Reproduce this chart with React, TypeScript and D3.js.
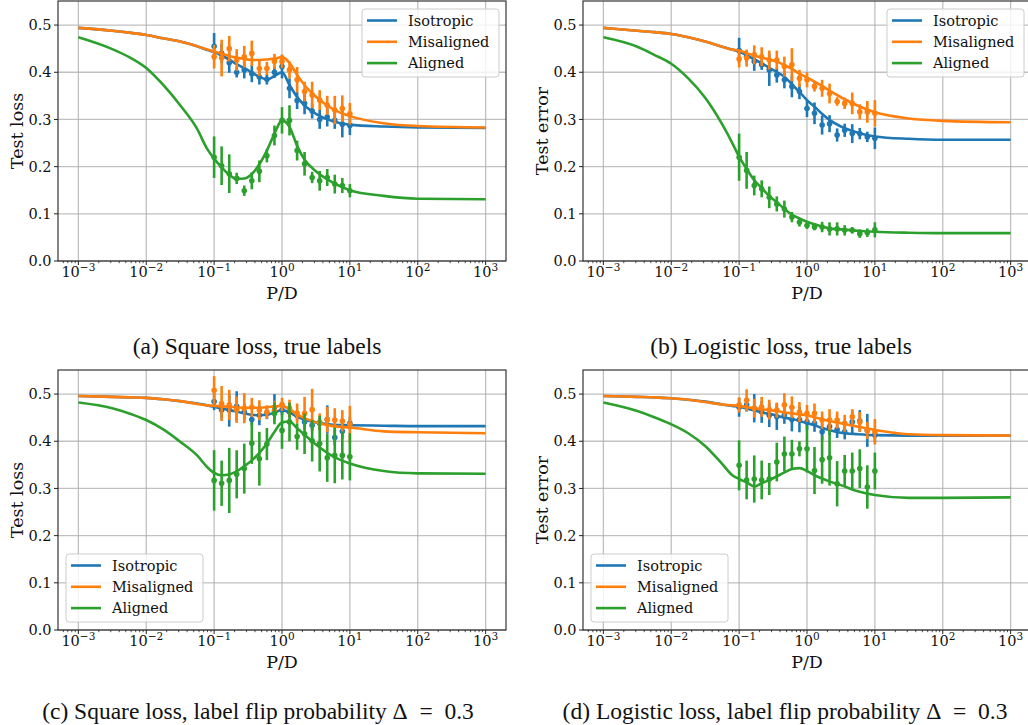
import React from 'react';
import * as d3 from 'd3';

// P/D values where the simulations were run
const PD = [0.1, 0.129, 0.167, 0.215, 0.278, 0.359, 0.464, 0.599, 0.774, 1, 1.29, 1.67, 2.15, 2.78, 3.59, 4.64, 5.99, 7.74, 10];
// P/D values where the theory curves are read
const CURVE_PD = [0.001, 0.00316, 0.00562, 0.01, 0.0178, 0.0316, 0.0562, 0.0794, 0.1, 0.132, 0.17, 0.214, 0.282, 0.363, 0.468, 0.603, 0.776, 1, 1.29, 1.66, 2.14, 3.16, 5.62, 10, 31.6, 100, 1000];

// (a) square loss, true labels
const aIsoCurve = [0.494, 0.488, 0.484, 0.479, 0.472, 0.465, 0.455, 0.447, 0.443, 0.435, 0.426, 0.417, 0.408, 0.399, 0.39, 0.385, 0.392, 0.4, 0.373, 0.348, 0.33, 0.312, 0.296, 0.289, 0.285, 0.283, 0.282];
const aMisCurve = [0.494, 0.488, 0.484, 0.479, 0.472, 0.465, 0.455, 0.448, 0.444, 0.439, 0.434, 0.431, 0.428, 0.426, 0.426, 0.427, 0.429, 0.432, 0.42, 0.395, 0.373, 0.348, 0.322, 0.307, 0.292, 0.286, 0.283];
const aAlignCurve = [0.474, 0.449, 0.432, 0.409, 0.373, 0.33, 0.28, 0.237, 0.217, 0.197, 0.182, 0.174, 0.175, 0.185, 0.206, 0.235, 0.27, 0.298, 0.284, 0.245, 0.215, 0.19, 0.166, 0.15, 0.138, 0.132, 0.131];
const aIsoMean = [0.455, 0.44, 0.42, 0.40, 0.405, 0.397, 0.39, 0.385, 0.40, 0.412, 0.366, 0.34, 0.334, 0.318, 0.30, 0.305, 0.298, 0.29, 0.287];
const aIsoErr = [0.028, 0.021, 0.021, 0.011, 0.018, 0.018, 0.016, 0.011, 0.012, 0.025, 0.021, 0.018, 0.023, 0.016, 0.02, 0.02, 0.018, 0.028, 0.02];
const aMisMean = [0.433, 0.43, 0.45, 0.426, 0.433, 0.44, 0.408, 0.408, 0.423, 0.423, 0.405, 0.384, 0.359, 0.352, 0.341, 0.33, 0.32, 0.323, 0.312];
const aMisErr = [0.025, 0.039, 0.027, 0.023, 0.023, 0.027, 0.016, 0.014, 0.016, 0.014, 0.018, 0.027, 0.021, 0.028, 0.021, 0.02, 0.03, 0.028, 0.023];
const aAlignMean = [0.22, 0.202, 0.185, 0.175, 0.149, 0.17, 0.19, 0.223, 0.266, 0.298, 0.298, 0.234, 0.206, 0.177, 0.17, 0.177, 0.163, 0.16, 0.149];
const aAlignErr = [0.044, 0.041, 0.041, 0.012, 0.011, 0.018, 0.023, 0.014, 0.021, 0.028, 0.032, 0.021, 0.025, 0.012, 0.021, 0.018, 0.02, 0.016, 0.014];

// (b) logistic loss, true labels
const bIsoCurve = [0.494, 0.488, 0.485, 0.481, 0.474, 0.465, 0.454, 0.448, 0.444, 0.435, 0.427, 0.419, 0.409, 0.40, 0.39, 0.374, 0.358, 0.341, 0.327, 0.312, 0.299, 0.285, 0.272, 0.264, 0.259, 0.257, 0.257];
const bMisCurve = [0.494, 0.488, 0.485, 0.481, 0.474, 0.465, 0.454, 0.448, 0.446, 0.44, 0.435, 0.431, 0.427, 0.422, 0.415, 0.407, 0.397, 0.389, 0.38, 0.371, 0.361, 0.347, 0.329, 0.315, 0.302, 0.297, 0.294];
const bAlignCurve = [0.474, 0.454, 0.437, 0.418, 0.387, 0.346, 0.29, 0.25, 0.221, 0.193, 0.17, 0.155, 0.137, 0.124, 0.11, 0.098, 0.09, 0.083, 0.078, 0.073, 0.069, 0.067, 0.064, 0.062, 0.06, 0.059, 0.059];
const bIsoMean = [0.446, 0.433, 0.423, 0.416, 0.405, 0.394, 0.384, 0.37, 0.359, 0.323, 0.313, 0.288, 0.291, 0.267, 0.277, 0.27, 0.27, 0.263, 0.26];
const bIsoErr = [0.027, 0.012, 0.02, 0.011, 0.034, 0.016, 0.018, 0.023, 0.016, 0.018, 0.023, 0.02, 0.018, 0.014, 0.014, 0.02, 0.012, 0.011, 0.023];
const bMisMean = [0.428, 0.43, 0.437, 0.433, 0.426, 0.426, 0.412, 0.416, 0.387, 0.384, 0.37, 0.366, 0.355, 0.338, 0.334, 0.334, 0.316, 0.316, 0.313];
const bMisErr = [0.018, 0.018, 0.02, 0.02, 0.02, 0.02, 0.021, 0.035, 0.018, 0.016, 0.011, 0.018, 0.021, 0.009, 0.012, 0.023, 0.016, 0.023, 0.028];
const bAlignMean = [0.22, 0.192, 0.16, 0.153, 0.135, 0.121, 0.11, 0.093, 0.082, 0.075, 0.072, 0.072, 0.068, 0.068, 0.065, 0.065, 0.058, 0.06, 0.066];
const bAlignErr = [0.05, 0.039, 0.021, 0.018, 0.023, 0.016, 0.018, 0.011, 0.009, 0.007, 0.007, 0.011, 0.014, 0.014, 0.011, 0.007, 0.009, 0.009, 0.016];

// (c) square loss, label flip 0.3
const cIsoCurve = [0.496, 0.494, 0.493, 0.492, 0.489, 0.485, 0.48, 0.476, 0.473, 0.469, 0.466, 0.463, 0.459, 0.456, 0.455, 0.456, 0.461, 0.466, 0.461, 0.452, 0.446, 0.44, 0.435, 0.434, 0.433, 0.432, 0.432];
const cMisCurve = [0.496, 0.494, 0.493, 0.492, 0.489, 0.485, 0.479, 0.476, 0.475, 0.474, 0.473, 0.472, 0.471, 0.471, 0.471, 0.472, 0.474, 0.475, 0.468, 0.457, 0.449, 0.44, 0.432, 0.429, 0.421, 0.419, 0.417];
const cAlignCurve = [0.482, 0.47, 0.459, 0.445, 0.425, 0.399, 0.37, 0.345, 0.333, 0.328, 0.33, 0.336, 0.348, 0.36, 0.376, 0.396, 0.42, 0.44, 0.442, 0.428, 0.414, 0.393, 0.368, 0.353, 0.337, 0.332, 0.331];
const cIsoMean = [0.484, 0.466, 0.466, 0.474, 0.462, 0.446, 0.455, 0.459, 0.472, 0.466, 0.462, 0.455, 0.441, 0.434, 0.438, 0.446, 0.408, 0.421, 0.438];
const cIsoErr = [0.018, 0.018, 0.035, 0.032, 0.018, 0.012, 0.021, 0.012, 0.028, 0.011, 0.011, 0.011, 0.014, 0.012, 0.014, 0.03, 0.016, 0.016, 0.014];
const cMisMean = [0.508, 0.48, 0.477, 0.467, 0.47, 0.472, 0.466, 0.462, 0.465, 0.478, 0.47, 0.459, 0.459, 0.467, 0.441, 0.446, 0.445, 0.443, 0.436];
const cMisErr = [0.03, 0.037, 0.032, 0.028, 0.032, 0.02, 0.021, 0.014, 0.02, 0.014, 0.018, 0.021, 0.035, 0.044, 0.018, 0.027, 0.025, 0.023, 0.039];
const cAlignMean = [0.317, 0.311, 0.317, 0.33, 0.342, 0.396, 0.363, 0.394, 0.459, 0.423, 0.441, 0.41, 0.416, 0.401, 0.395, 0.365, 0.37, 0.37, 0.367];
const cAlignErr = [0.064, 0.048, 0.069, 0.051, 0.053, 0.044, 0.057, 0.034, 0.023, 0.039, 0.041, 0.028, 0.043, 0.044, 0.059, 0.051, 0.059, 0.051, 0.05];

// (d) logistic loss, label flip 0.3
const dIsoCurve = [0.496, 0.494, 0.493, 0.491, 0.488, 0.484, 0.478, 0.475, 0.473, 0.469, 0.465, 0.461, 0.458, 0.454, 0.45, 0.447, 0.443, 0.438, 0.434, 0.428, 0.424, 0.418, 0.415, 0.413, 0.412, 0.412, 0.412];
const dMisCurve = [0.496, 0.494, 0.493, 0.491, 0.488, 0.483, 0.478, 0.476, 0.475, 0.472, 0.47, 0.468, 0.466, 0.464, 0.461, 0.459, 0.457, 0.455, 0.451, 0.447, 0.443, 0.438, 0.431, 0.424, 0.415, 0.413, 0.412];
const dAlignCurve = [0.482, 0.464, 0.451, 0.436, 0.417, 0.39, 0.352, 0.328, 0.32, 0.312, 0.304, 0.311, 0.318, 0.326, 0.334, 0.341, 0.343, 0.337, 0.328, 0.321, 0.315, 0.307, 0.294, 0.286, 0.28, 0.28, 0.281];
const dIsoMean = [0.472, 0.477, 0.47, 0.462, 0.455, 0.452, 0.455, 0.446, 0.446, 0.441, 0.438, 0.42, 0.431, 0.425, 0.42, 0.441, 0.443, 0.423, 0.413];
const dIsoErr = [0.02, 0.014, 0.03, 0.023, 0.025, 0.028, 0.018, 0.025, 0.027, 0.018, 0.018, 0.018, 0.018, 0.018, 0.016, 0.025, 0.023, 0.035, 0.014];
const dMisMean = [0.477, 0.487, 0.47, 0.473, 0.467, 0.466, 0.477, 0.472, 0.462, 0.459, 0.459, 0.445, 0.445, 0.445, 0.438, 0.452, 0.441, 0.423, 0.42];
const dMisErr = [0.016, 0.023, 0.02, 0.021, 0.021, 0.016, 0.025, 0.023, 0.021, 0.018, 0.021, 0.018, 0.023, 0.018, 0.018, 0.016, 0.021, 0.018, 0.027];
const dAlignMean = [0.349, 0.318, 0.32, 0.318, 0.32, 0.356, 0.373, 0.373, 0.384, 0.384, 0.338, 0.361, 0.365, 0.31, 0.337, 0.337, 0.342, 0.303, 0.337];
const dAlignErr = [0.053, 0.041, 0.05, 0.041, 0.034, 0.041, 0.037, 0.03, 0.016, 0.05, 0.05, 0.051, 0.059, 0.048, 0.034, 0.039, 0.041, 0.046, 0.039];

const LABELS = ['Isotropic', 'Misaligned', 'Aligned'];
const COLORS = ['#1f77b4', '#ff7f0e', '#2ca02c'];
const Y_TICKS = [0, 0.1, 0.2, 0.3, 0.4, 0.5];
const X_TICKS = [1e-3, 1e-2, 1e-1, 1, 10, 100, 1000];
const X_TICK_EXP = ['\u22123', '\u22122', '\u22121', '0', '1', '2', '3'];

const TICK_FONT = "'DejaVu Serif', serif";
const CAPTION_FONT = "'Liberation Serif', 'Times New Roman', serif";

const panels = [
  {
    left: 58, top: 1, ylabel: 'Test loss', legend: 'upper',
    caption: '(a) Square loss, true labels', capX: 257, capY: 354,
    curves: [aIsoCurve, aMisCurve, aAlignCurve],
    means: [aIsoMean, aMisMean, aAlignMean],
    errs: [aIsoErr, aMisErr, aAlignErr],
  },
  {
    left: 583, top: 1, ylabel: 'Test error', legend: 'upper',
    caption: '(b) Logistic loss, true labels', capX: 781, capY: 354,
    curves: [bIsoCurve, bMisCurve, bAlignCurve],
    means: [bIsoMean, bMisMean, bAlignMean],
    errs: [bIsoErr, bMisErr, bAlignErr],
  },
  {
    left: 58, top: 370, ylabel: 'Test loss', legend: 'lower',
    caption: '(c) Square loss, label flip probability \u0394\u2002=\u20020.3', capX: 258, capY: 719,
    curves: [cIsoCurve, cMisCurve, cAlignCurve],
    means: [cIsoMean, cMisMean, cAlignMean],
    errs: [cIsoErr, cMisErr, cAlignErr],
  },
  {
    left: 583, top: 370, ylabel: 'Test error', legend: 'lower',
    caption: '(d) Logistic loss, label flip probability \u0394\u2002=\u20020.3', capX: 785, capY: 719,
    curves: [dIsoCurve, dMisCurve, dAlignCurve],
    means: [dIsoMean, dMisMean, dAlignMean],
    errs: [dIsoErr, dMisErr, dAlignErr],
  },
];

const W = 448;
const H = 260;

function Panel({ p }: { p: any }) {
  const x = d3.scaleLog().domain([Math.pow(10, -3.3), Math.pow(10, 3.3)]).range([p.left, p.left + W]);
  const y = d3.scaleLinear().domain([0, 0.551]).range([p.top + H, p.top]);
  const bottom = p.top + H;

  const minor = x.ticks().filter(t => !X_TICKS.some(m => Math.abs(m - t) / m < 1e-6));

  const line = d3.line<number>()
    .x((_, i) => x(CURVE_PD[i]))
    .y(d => y(d))
    .curve(d3.curveMonotoneX);

  // legend box
  const lw = 137, lh = 68;
  const lx = p.legend === 'upper' ? p.left + W - 7 - lw : p.left + 8;
  const ly = p.legend === 'upper' ? p.top + 8 : bottom - 8 - lh;

  return (
    <g>
      {/* grid */}
      {X_TICKS.map(t => (
        <line key={'gx' + t} x1={x(t)} x2={x(t)} y1={p.top} y2={bottom} stroke="#b0b0b0" strokeWidth={1.3} strokeOpacity={0.8} />
      ))}
      {Y_TICKS.map(t => (
        <line key={'gy' + t} x1={p.left} x2={p.left + W} y1={y(t)} y2={y(t)} stroke="#b0b0b0" strokeWidth={1.3} strokeOpacity={0.8} />
      ))}

      {/* series */}
      {[0, 1, 2].map(s => (
        <g key={'s' + s}>
          <path d={line(p.curves[s]) || ''} fill="none" stroke={COLORS[s]} strokeWidth={2.6} />
          {PD.map((v, i) => (
            <g key={i}>
              <line x1={x(v)} x2={x(v)} y1={y(p.means[s][i] - p.errs[s][i])} y2={y(p.means[s][i] + p.errs[s][i])}
                stroke={COLORS[s]} strokeWidth={2.6} />
              <circle cx={x(v)} cy={y(p.means[s][i])} r={2.8} fill={COLORS[s]} />
            </g>
          ))}
        </g>
      ))}

      {/* frame */}
      <rect x={p.left} y={p.top} width={W} height={H} fill="none" stroke="#222" strokeWidth={1.1} />

      {/* y axis */}
      {Y_TICKS.map(t => (
        <g key={'yt' + t}>
          <line x1={p.left - 4} x2={p.left} y1={y(t)} y2={y(t)} stroke="#222" strokeWidth={1} />
          <text x={p.left - 6.5} y={y(t)} dy="0.36em" textAnchor="end" fontFamily={TICK_FONT} fontSize={14.5} fill="#111">
            {d3.format('.1f')(t)}
          </text>
        </g>
      ))}

      {/* x axis */}
      {minor.map(t => (
        <line key={'mt' + t} x1={x(t)} x2={x(t)} y1={bottom} y2={bottom + 2.2} stroke="#222" strokeWidth={0.8} />
      ))}
      {X_TICKS.map((t, i) => (
        <g key={'xt' + t}>
          <line x1={x(t)} x2={x(t)} y1={bottom} y2={bottom + 4} stroke="#222" strokeWidth={1} />
          <text x={x(t)} y={bottom + 16} textAnchor="middle" fontFamily={TICK_FONT} fontSize={14.5} fill="#111">
            10<tspan dy={-6} fontSize={10.5}>{X_TICK_EXP[i]}</tspan>
          </text>
        </g>
      ))}

      <text x={p.left + W / 2} y={bottom + 38} textAnchor="middle" fontFamily={TICK_FONT} fontSize={17.5} fill="#111">P/D</text>
      <text transform={`translate(${p.left - 35},${p.top + H / 2}) rotate(-90)`} textAnchor="middle"
        fontFamily={TICK_FONT} fontSize={17.5} fill="#111">{p.ylabel}</text>

      {/* legend */}
      <rect x={lx} y={ly} width={lw} height={lh} rx={3} fill="#fff" fillOpacity={0.8} stroke="#cccccc" strokeWidth={1} />
      {LABELS.map((lab, i) => (
        <g key={lab}>
          <line x1={lx + 5} x2={lx + 35} y1={ly + 11.5 + i * 21.3} y2={ly + 11.5 + i * 21.3} stroke={COLORS[i]} strokeWidth={2.6} />
          <text x={lx + 46} y={ly + 11.5 + i * 21.3} dy="0.36em" fontFamily={TICK_FONT} fontSize={14.5} fill="#111">{lab}</text>
        </g>
      ))}

      {/* caption */}
      <text x={p.capX} y={p.capY} textAnchor="middle" fontFamily={CAPTION_FONT} fontSize={23.5} fill="#111">{p.caption}</text>
    </g>
  );
}

export default function App() {
  return (
    <svg width={1028} height={725} style={{ position: 'absolute', left: 0, top: 0, background: '#fff' }}>
      {panels.map((p, i) => <Panel key={i} p={p} />)}
    </svg>
  );
}
